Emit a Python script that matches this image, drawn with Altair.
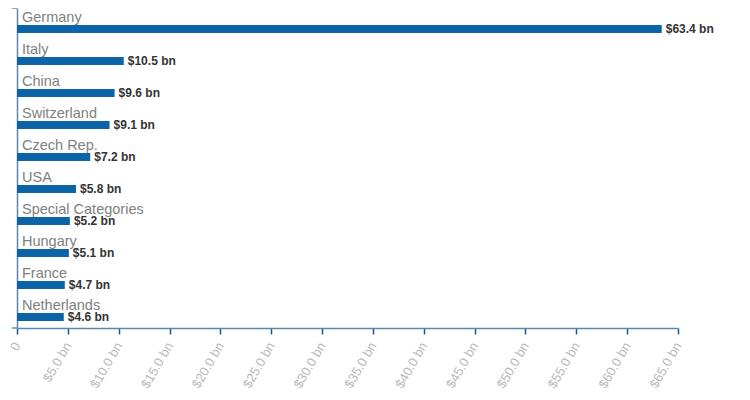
import altair as alt
import pandas as pd

countries = ["Germany", "Italy", "China", "Switzerland", "Czech Rep.", "USA",
             "Special Categories", "Hungary", "France", "Netherlands"]
values = [63.4, 10.5, 9.6, 9.1, 7.2, 5.8, 5.2, 5.1, 4.7, 4.6]
tick_values = [0, 5, 10, 15, 20, 25, 30, 35, 40, 45, 50, 55, 60, 65]

df = pd.DataFrame({"country": countries, "value": values})
df["label"] = ["$" + f"{v:.1f}" + " bn" for v in values]

AXIS_BLUE = "#5a87b0"
TICK_BLUE = "#1f5488"
BAR = "#0b63a8"
FONT = "Liberation Sans"

base = alt.Chart(df).encode(
    y=alt.Y("country:N", sort=countries,
            scale=alt.Scale(paddingInner=0, paddingOuter=0),
            axis=alt.Axis(labels=False, ticks=False, title=None, grid=False,
                          domainColor=AXIS_BLUE, domainWidth=1.5))
)

bars = base.mark_bar(size=8, yOffset=5, color=BAR).encode(
    x=alt.X("value:Q",
            scale=alt.Scale(domain=[0, 65], nice=False, zero=True),
            axis=alt.Axis(values=tick_values, title=None, grid=False,
                          labelExpr="datum.value == 0 ? '0' : '$' + format(datum.value, '.1f') + ' bn'",
                          labelAngle=-60, labelAlign="right", labelBaseline="middle",
                          labelColor="#b8b8b8", labelFontSize=13, labelFont=FONT,
                          labelPadding=9, tickSize=6, tickColor=TICK_BLUE, tickWidth=1.5,
                          domainColor=AXIS_BLUE, domainWidth=1.5, labelOverlap=False))
)

names = base.mark_text(align="left", baseline="middle", dx=5, yOffset=-6,
                       fontSize=14.5, color="#808080", font=FONT).encode(
    x=alt.value(0), text="country:N")

vals = base.mark_text(align="left", baseline="middle", dx=4, yOffset=5,
                      fontSize=12, fontWeight="bold", color="#333333", font=FONT).encode(
    x="value:Q", text="label:N")

one = pd.DataFrame({"k": [0]})
top_tick = alt.Chart(one).mark_rule(color=AXIS_BLUE, strokeWidth=1.5).encode(
    x=alt.value(-5), x2=alt.value(0), y=alt.value(0))
bottom_tick = alt.Chart(one).mark_rule(color=AXIS_BLUE, strokeWidth=1.5).encode(
    x=alt.value(-5), x2=alt.value(0), y=alt.value(320))

chart = alt.layer(bars, names, vals, top_tick, bottom_tick).properties(
    width=661, height=320,
    autosize=alt.AutoSizeParams(type="none"),
    padding={"left": 9, "top": 0, "right": 60, "bottom": 72},
).configure_view(stroke=None)

chart.save("out.html", embed_options={"renderer": "svg", "actions": False})
